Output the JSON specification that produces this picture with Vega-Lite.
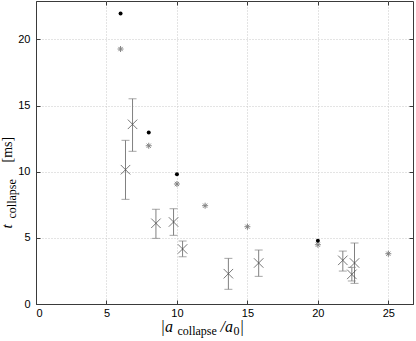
{
  "$schema": "https://vega.github.io/schema/vega-lite/v6.json",
  "width": 377,
  "height": 303,
  "autosize": {"type": "none"},
  "padding": {"left": 36, "top": 1, "right": 3, "bottom": 37},
  "background": "white",
  "config": {
    "view": {"stroke": "#3a3a3a", "strokeWidth": 1},
    "axis": {
      "labelFont": "Liberation Sans",
      "labelFontSize": 11,
      "labelColor": "black",
      "titleColor": "black",
      "titleFont": "Liberation Serif",
      "titleFontWeight": "normal",
      "domainColor": "#3a3a3a",
      "tickColor": "#3a3a3a",
      "gridColor": "#c8c8c8",
      "gridDash": [1, 2],
      "titleAlign": "left",
      "titleBaseline": "alphabetic"
    }
  },
  "datasets": {
    "dots": [
      {"a": 6, "t": 21.96},
      {"a": 8, "t": 12.97},
      {"a": 10, "t": 9.8},
      {"a": 20, "t": 4.78}
    ],
    "stars": [
      {"a": 6, "t": 19.27},
      {"a": 8, "t": 11.96},
      {"a": 10, "t": 9.07},
      {"a": 12, "t": 7.43},
      {"a": 15, "t": 5.84},
      {"a": 20, "t": 4.48},
      {"a": 25, "t": 3.8}
    ],
    "xs": [
      {"a": 6.35, "t": 10.15, "lo": 7.91, "hi": 12.37},
      {"a": 6.85, "t": 13.58, "lo": 11.54, "hi": 15.51},
      {"a": 8.51, "t": 6.1, "lo": 4.96, "hi": 7.16},
      {"a": 9.76, "t": 6.2, "lo": 5.19, "hi": 7.2},
      {"a": 10.4, "t": 4.16, "lo": 3.57, "hi": 4.76},
      {"a": 13.65, "t": 2.29, "lo": 1.11, "hi": 3.45},
      {"a": 15.8, "t": 3.1, "lo": 2.09, "hi": 4.08},
      {"a": 21.77, "t": 3.3, "lo": 2.49, "hi": 4.0},
      {"a": 22.41, "t": 2.24, "lo": 1.74, "hi": 2.77},
      {"a": 22.6, "t": 3.1, "lo": 1.56, "hi": 4.61}
    ]
  },
  "resolve": {
    "scale": {"x": "shared", "y": "shared"},
    "axis": {"x": "independent", "y": "independent"}
  },
  "layer": [
    {
      "data": {"name": "xs"},
      "mark": {"type": "point", "opacity": 0},
      "encoding": {
        "x": {"field": "a", "type": "quantitative", "scale": {"domain": [0, 26.75], "nice": false, "zero": false},
          "axis": {"orient": "bottom", "values": [0, 5, 10, 15, 20, 25], "grid": true, "tickSize": -4, "labelPadding": 7,
            "title": "|a", "titleFontStyle": "italic", "titleFontSize": 16, "titleX": 124, "titleY": 27, "titleAngle": 0}},
        "y": {"field": "t", "type": "quantitative", "scale": {"domain": [0, 22.9], "nice": false, "zero": false},
          "axis": {"orient": "left", "values": [0, 5, 10, 15, 20], "grid": true, "tickSize": -4, "labelPadding": 10,
            "title": "t", "titleFontStyle": "italic", "titleFontSize": 15, "titleX": -25, "titleY": 227, "titleAngle": -90}}
      }
    },
    {
      "data": {"name": "xs"},
      "mark": {"type": "rule", "color": "#808080", "strokeWidth": 1},
      "encoding": {
        "x": {"field": "a", "type": "quantitative",
          "axis": {"orient": "bottom", "labels": false, "ticks": false, "domain": false, "grid": false,
            "title": "collapse", "titleFontSize": 12, "titleX": 141, "titleY": 30, "titleAngle": 0}},
        "y": {"field": "lo", "type": "quantitative",
          "axis": {"orient": "left", "labels": false, "ticks": false, "domain": false, "grid": false,
            "title": "collapse", "titleFontSize": 12, "titleX": -21, "titleY": 217, "titleAngle": -90}},
        "y2": {"field": "hi"}
      }
    },
    {
      "data": {"name": "xs"},
      "mark": {"type": "tick", "orient": "horizontal", "color": "#808080", "size": 8, "thickness": 1},
      "encoding": {
        "x": {"field": "a", "type": "quantitative",
          "axis": {"orient": "bottom", "labels": false, "ticks": false, "domain": false, "grid": false,
            "title": "/a", "titleFontStyle": "italic", "titleFontSize": 16, "titleX": 184, "titleY": 27, "titleAngle": 0}},
        "y": {"field": "hi", "type": "quantitative",
          "axis": {"orient": "left", "labels": false, "ticks": false, "domain": false, "grid": false,
            "title": "[ms]", "titleFontSize": 14, "titleX": -25, "titleY": 161, "titleAngle": -90}}
      }
    },
    {
      "data": {"name": "xs"},
      "mark": {"type": "tick", "orient": "horizontal", "color": "#808080", "size": 8, "thickness": 1},
      "encoding": {
        "x": {"field": "a", "type": "quantitative",
          "axis": {"orient": "bottom", "labels": false, "ticks": false, "domain": false, "grid": false,
            "title": "0", "titleFontSize": 12, "titleX": 197, "titleY": 30, "titleAngle": 0}},
        "y": {"field": "lo", "type": "quantitative",
          "axis": {"orient": "right", "labels": false, "values": [0, 5, 10, 15, 20], "tickSize": -4, "domain": false, "grid": false, "title": null}}
      }
    },
    {
      "data": {"name": "xs"},
      "mark": {"type": "point", "shape": "M-1,-1L1,1M-1,1L1,-1", "filled": false, "stroke": "#404040", "strokeWidth": 1, "size": 90},
      "encoding": {
        "x": {"field": "a", "type": "quantitative",
          "axis": {"orient": "bottom", "labels": false, "ticks": false, "domain": false, "grid": false,
            "title": "|", "titleFontSize": 16, "titleX": 204, "titleY": 27, "titleAngle": 0}},
        "y": {"field": "t", "type": "quantitative", "axis": null}
      }
    },
    {
      "data": {"name": "stars"},
      "mark": {"type": "point", "shape": "M-1,0L1,0M0,-1L0,1M-0.7,-0.7L0.7,0.7M-0.7,0.7L0.7,-0.7", "filled": false, "stroke": "#505050", "strokeWidth": 1, "size": 36},
      "encoding": {
        "x": {"field": "a", "type": "quantitative",
          "axis": {"orient": "top", "labels": false, "values": [0, 5, 10, 15, 20, 25], "tickSize": -4, "domain": false, "grid": false, "title": null}},
        "y": {"field": "t", "type": "quantitative", "axis": null}
      }
    },
    {
      "data": {"name": "dots"},
      "mark": {"type": "circle", "color": "black", "opacity": 1, "size": 16},
      "encoding": {
        "x": {"field": "a", "type": "quantitative", "axis": null},
        "y": {"field": "t", "type": "quantitative", "axis": null}
      }
    }
  ]
}
